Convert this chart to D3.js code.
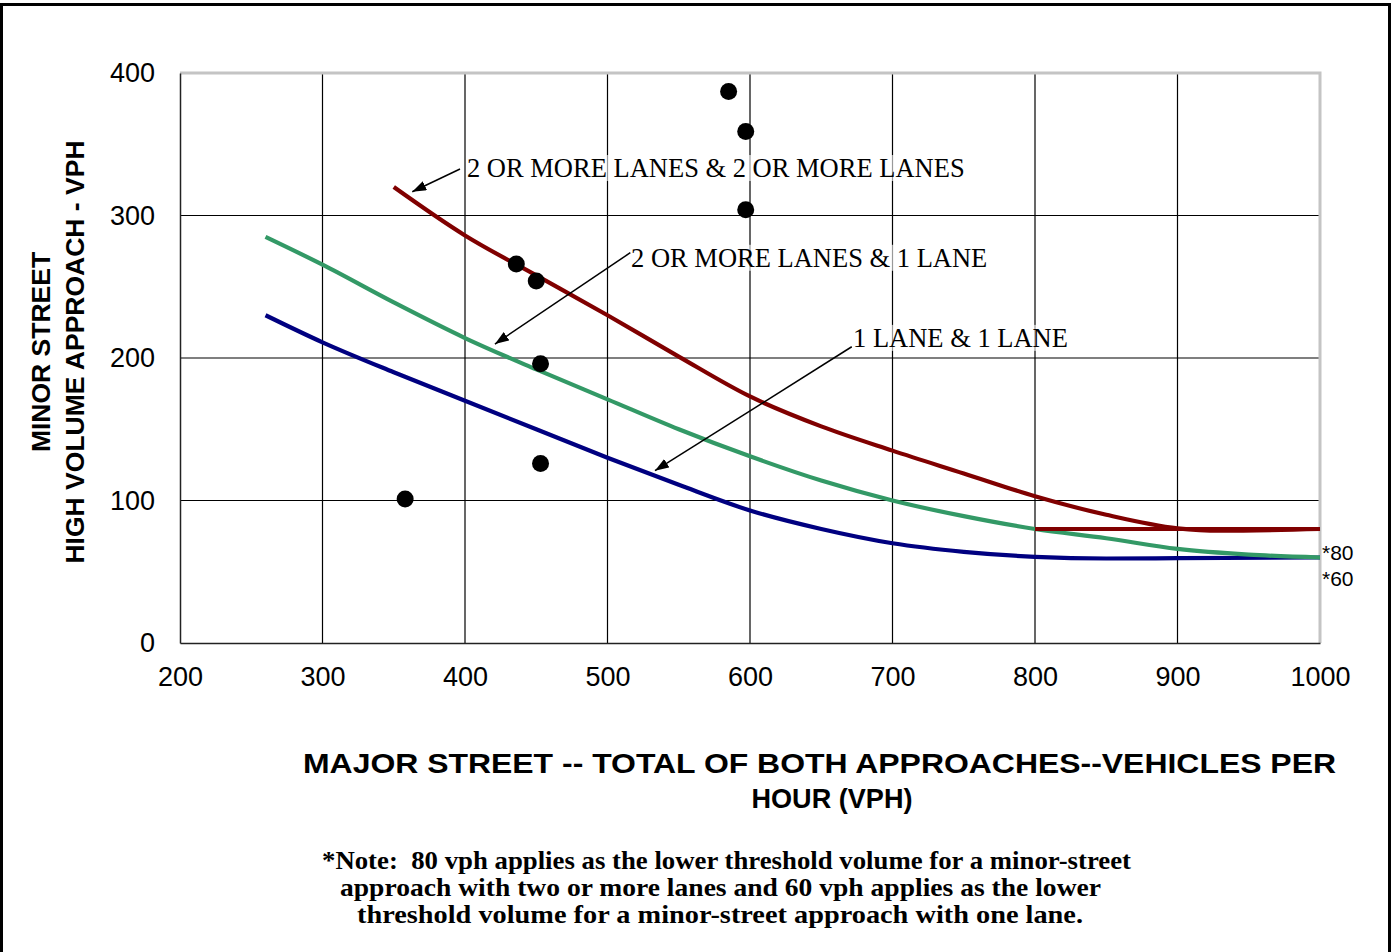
<!DOCTYPE html>
<html>
<head>
<meta charset="utf-8">
<script src="https://cdn.jsdelivr.net/npm/d3@7"></script>
<style>
  html, body { margin: 0; padding: 0; background: #fff; }
  svg { display: block; }
</style>
</head>
<body>
<svg id="chart" width="1393" height="952"></svg>
<script>
// ---------- DATA ----------
const xTicks = [200, 300, 400, 500, 600, 700, 800, 900, 1000];
const yTicks = [0, 100, 200, 300, 400];

// Curve: 2 OR MORE LANES & 2 OR MORE LANES
const redX = [350, 400, 450, 500, 550, 600, 650, 700, 750, 800, 850, 900, 930, 1000];
const redY = [320, 286, 258, 230, 201, 173, 152, 135, 119, 103, 90, 80.5, 78.8, 80];
// Lower threshold line (80 vph)
const floorX = [800, 1000];
const floorY = [80, 80];
// Curve: 2 OR MORE LANES & 1 LANE
const greenX = [260, 300, 350, 400, 450, 500, 550, 600, 650, 700, 750, 800, 850, 900, 950, 1000];
const greenY = [285, 265.5, 239, 214, 192, 171, 150, 131, 114, 100, 89, 80, 73.5, 66, 62, 60];
// Curve: 1 LANE & 1 LANE
const blueX = [260, 300, 350, 400, 450, 500, 550, 600, 650, 700, 750, 800, 850, 900, 1000];
const blueY = [230, 211, 190, 170, 150, 130, 111, 93, 80, 70, 64, 60.5, 59.3, 59.5, 60];

// Observed points
const ptX = [585, 597, 597, 436, 450, 453, 453, 358];
const ptY = [387, 359, 304, 266, 254, 196, 126, 101];

// Annotations (text anchor, arrow start, arrow tip) in data units
const annText = ["2 OR MORE LANES & 2 OR MORE LANES", "2 OR MORE LANES & 1 LANE", "1 LANE & 1 LANE"];
const annTextX = [401.4, 516.5, 672.3];
const annTextY = [327, 264, 207.8];
const annFromX = [396.5, 516, 671.4];
const annFromY = [332.6, 273.9, 207.9];
const annTipX = [363, 421, 533.3];
const annTipY = [316.7, 209.8, 120.9];

const endLabels = ["*80", "*60"];
const xTitle = ["MAJOR STREET -- TOTAL OF BOTH APPROACHES--VEHICLES PER", "HOUR (VPH)"];
const yTitle = ["MINOR STREET", "HIGH VOLUME APPROACH - VPH"];
const noteLines = [
  "*Note:  80 vph applies as the lower threshold volume for a minor-street",
  "approach with two or more lanes and 60 vph applies as the lower",
  "threshold volume for a minor-street approach with one lane."
];

// ---------- LAYOUT ----------
const svg = d3.select("#chart");
const L = 180, R = 1320, T = 73, B = 643;
const x = d3.scaleLinear().domain([200, 1000]).range([L, R]);
const y = d3.scaleLinear().domain([0, 400]).range([B, T]);
const SANS = "'Liberation Sans', Arial, sans-serif";
const SERIF = "'Liberation Serif', 'Times New Roman', serif";

svg.append("rect").attr("width", 1393).attr("height", 952).attr("fill", "#fff");

// outer frame
svg.append("path")
  .attr("d", "M1.5,960 V4.5 H1389.5 V960")
  .attr("fill", "none").attr("stroke", "#000").attr("stroke-width", 3);

// gridlines
const g = svg.append("g");
g.selectAll("line.vg").data(xTicks.filter(d => d > 200 && d < 1000)).join("line")
  .attr("x1", d => x(d)).attr("x2", d => x(d)).attr("y1", T).attr("y2", B)
  .attr("stroke", "#000").attr("stroke-width", 1.2);
g.selectAll("line.hg").data(yTicks.filter(d => d > 0 && d < 400)).join("line")
  .attr("x1", L).attr("x2", R).attr("y1", d => y(d)).attr("y2", d => y(d))
  .attr("stroke", "#000").attr("stroke-width", 1.2);

// plot border: top/right light gray
svg.append("path").attr("d", `M${L},${y(400)} H${x(1000)} V${y(0)}`)
  .attr("fill", "none").attr("stroke", "#c4c4c4").attr("stroke-width", 3);

// axes
const xAxis = svg.append("g").attr("transform", `translate(0,${B})`)
  .call(d3.axisBottom(x).tickValues(xTicks).tickFormat(d3.format("d")).tickSize(0).tickPadding(24));
const yAxis = svg.append("g").attr("transform", `translate(${L},0)`)
  .call(d3.axisLeft(y).tickValues(yTicks).tickFormat(d3.format("d")).tickSize(0).tickPadding(25));
[xAxis, yAxis].forEach(a => {
  a.select(".domain").attr("stroke", "#222").attr("stroke-width", 1.5);
  a.selectAll("text").attr("font-family", SANS).attr("font-size", 27).attr("fill", "#000");
});

// annotation text with translucent white box
const ann = svg.append("g");
annText.forEach((t, i) => {
  const grp = ann.append("g");
  const rect = grp.append("rect").attr("fill", "#fff").attr("fill-opacity", 0.6);
  const tx = grp.append("text")
    .attr("x", x(annTextX[i])).attr("y", y(annTextY[i]))
    .attr("font-family", SERIF).attr("font-size", 26.5).attr("fill", "#000")
    .text(t);
  const bb = tx.node().getBBox();
  rect.attr("x", bb.x).attr("y", bb.y + 2).attr("width", bb.width).attr("height", bb.height - 4);
});

// curves
const line = d3.line().x(d => x(d[0])).y(d => y(d[1])).curve(d3.curveMonotoneX);
const series = [
  {xs: blueX, ys: blueY, color: "#000080"},
  {xs: greenX, ys: greenY, color: "#339966"},
  {xs: floorX, ys: floorY, color: "#800000"},
  {xs: redX, ys: redY, color: "#800000"}
];
series.forEach(s => {
  svg.append("path")
    .datum(s.xs.map((v, i) => [v, s.ys[i]]))
    .attr("d", line)
    .attr("fill", "none").attr("stroke", s.color).attr("stroke-width", 4.2)
    .attr("stroke-linecap", "butt").attr("stroke-linejoin", "round");
});

// arrows
svg.append("defs").append("marker")
  .attr("id", "arr").attr("viewBox", "0 0 14 10").attr("refX", 14).attr("refY", 5)
  .attr("markerWidth", 14).attr("markerHeight", 10).attr("markerUnits", "userSpaceOnUse")
  .attr("orient", "auto")
  .append("path").attr("d", "M0,0 L14,5 L0,10 Z").attr("fill", "#000");
annText.forEach((t, i) => {
  svg.append("line")
    .attr("x1", x(annFromX[i])).attr("y1", y(annFromY[i]))
    .attr("x2", x(annTipX[i])).attr("y2", y(annTipY[i]))
    .attr("stroke", "#000").attr("stroke-width", 1.5)
    .attr("marker-end", "url(#arr)");
});

// points
svg.append("g").selectAll("circle").data(ptX.map((v, i) => [v, ptY[i]])).join("circle")
  .attr("cx", d => x(d[0])).attr("cy", d => y(d[1])).attr("r", 8.5).attr("fill", "#000");

// end labels
svg.append("text").attr("x", x(1000) + 2).attr("y", 560)
  .attr("font-family", SANS).attr("font-size", 21).text(endLabels[0]);
svg.append("text").attr("x", x(1000) + 2).attr("y", 586)
  .attr("font-family", SANS).attr("font-size", 21).text(endLabels[1]);

// x title
const xtW = [1033, 161];
const xtX = [819.5, 832];
xTitle.forEach((t, i) => {
  svg.append("text").attr("x", xtX[i]).attr("y", 773 + i * 35)
    .attr("text-anchor", "middle").attr("font-family", SANS).attr("font-weight", "bold")
    .attr("font-size", 28).attr("textLength", xtW[i]).attr("lengthAdjust", "spacingAndGlyphs")
    .text(t);
});

// y title
yTitle.forEach((t, i) => {
  svg.append("text")
    .attr("transform", `translate(${50 + i * 34},352) rotate(-90)`)
    .attr("text-anchor", "middle").attr("font-family", SANS).attr("font-weight", "bold")
    .attr("font-size", 26.5).text(t);
});

// note
const noteW = [809, 761, 726];
const noteX = [726.5, 720.5, 720];
noteLines.forEach((t, i) => {
  svg.append("text").attr("x", noteX[i]).attr("y", 869 + i * 27)
    .attr("text-anchor", "middle").attr("font-family", SERIF).attr("font-weight", "bold")
    .attr("font-size", 26).attr("textLength", noteW[i]).attr("lengthAdjust", "spacingAndGlyphs")
    .style("white-space", "pre")
    .text(t);
});
</script>
</body>
</html>
